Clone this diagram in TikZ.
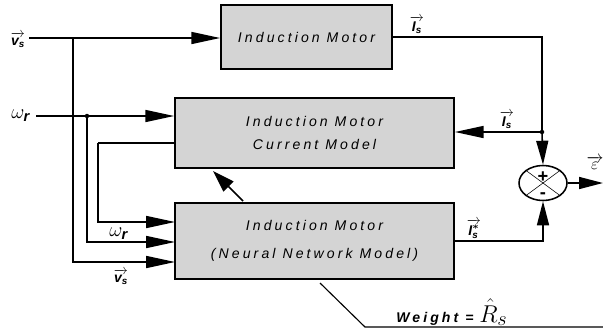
\documentclass[tikz,border=0pt]{standalone}
\usepackage{fontspec}
\setmainfont{Liberation Sans}
\usepackage{amsmath}
\usetikzlibrary{arrows.meta, positioning, shapes.geometric}

\newcommand{\spaced}{\addfontfeatures{LetterSpace=22}}
\newcommand{\sig}[2]{$\overrightarrow{\textbf{\textit{#1}}_{\textbf{\textit{#2}}}}$}

\begin{document}
\begin{tikzpicture}[
    x=0.025cm, y=-0.025cm,
    box/.style={
        rectangle, draw=black, line width=1.2pt,
        fill=black!17,
        minimum width=6.975cm,
        align=center,
        font=\fontsize{10}{17}\selectfont\itshape\spaced
    },
    arrow/.style={-{Triangle[length=0.72cm, width=0.3cm]}, line width=1.1pt},
    short/.style={-{Triangle[length=0.6cm, width=0.3cm]}, line width=1.1pt},
    line/.style={line width=1.1pt},
    lab/.style={font=\bfseries\itshape, inner sep=0pt},
    omega/.style={font=\fontsize{15}{15}\selectfont, inner sep=0pt}
]
\useasboundingbox (0,0) rectangle (603,330);

% Nodes
\node[box, minimum width=4.275cm, minimum height=1.6cm] (im) at (306.5,37) {Induction Motor};

\node[box, minimum height=1.75cm] (cm) at (314.5,133) {%
Induction Motor\\
Current Model
};

\node[box, minimum height=1.9cm] (nn) at (314.5,241) {%
Induction Motor\\[3pt]
(Neural Network Model)
};

\node[ellipse, draw, line width=1.1pt, minimum width=1.2cm, minimum height=0.875cm, inner sep=0pt] (sum) at (543,183) {};
\node[font=\fontsize{13}{13}\selectfont\bfseries, inner sep=0pt] (plus) at (543,177) {+};
\node[font=\fontsize{13}{13}\selectfont\bfseries, inner sep=0pt] (minus) at (543,196) {-};

% Coordinates
\coordinate (vsin) at (29,38);
\coordinate (vsb) at (73,38);
\coordinate (wrin) at (36,116);
\coordinate (wrdot) at (87,116);
\coordinate (fbout) at (175,143);
\coordinate (fbx) at (98,143);
\coordinate (nnin1) at (175,222);
\coordinate (nnin2) at (175,242);
\coordinate (nnin3) at (175,262);
\coordinate (junc) at (542,132);
\coordinate (eout) at (603,183);
\coordinate (dstart) at (243,201);
\coordinate (dend) at (213,171);
\coordinate (wstart) at (320,283);
\coordinate (wbend) at (365,327);
\coordinate (wend) at (603,327);

% Labels
\node[lab] (vslab) at (18,40) {\sig{v}{s}};
\node[omega] (wrlab) at (21,116) {$\omega_{\textbf{\textit{r}}}$};
\node[lab] (islab) at (417,25) {\sig{I}{s}};
\node[lab] (islab2) at (507,120) {\sig{I}{s}};
\node[omega] (wrlab2) at (119,234) {$\omega_{\textbf{\textit{r}}}$};
\node[lab] (vslab2) at (121,277) {\sig{v}{s}};
\node[lab] (isstar) at (474,229) {$\overrightarrow{\textbf{\textit{I}}^{\boldsymbol{\ast}}_{\textbf{\textit{s}}}}$};
\node[omega, font=\fontsize{13}{13}\selectfont] (elab) at (595,163) {$\overrightarrow{\varepsilon}$};
\node[lab, anchor=base west] (wlab) at (396,322) {\spaced Weight =};
\node[font=\fontsize{19}{19}\selectfont, inner sep=0pt, anchor=base west] (rlab) at (479,322) {$\hat{R}_{s}$};

% Arrows
\draw[arrow] (vsin) -- (vsin -| im.west);
\draw[arrow] (vsb) |- (nnin3);
\draw[arrow] (wrin) -- (wrin -| cm.west);
\draw[arrow] (wrdot) |- (nnin2);
\draw[line] (fbout) -- (fbx);
\draw[arrow] (fbx) |- (nnin1);
\fill (wrdot) circle[radius=1.6pt];

\draw[line] (im.east) -| (junc);
\draw[arrow] (junc) -- (junc -| cm.east);
\fill (junc) circle[radius=1.6pt];
\draw[short] (junc) -- (sum.north);
\draw[short] (nn.east) -| (sum.south);
\draw[short] (sum.east) -- (eout);
\draw (sum.north west) -- (sum.south east);
\draw (sum.north east) -- (sum.south west);

\draw[-{Triangle[length=0.55cm, width=0.35cm]}, line width=1.1pt] (dstart) -- (dend);
\draw[line width=0.8pt] (wstart) -- (wbend) -- (wend);

\end{tikzpicture}
\end{document}
